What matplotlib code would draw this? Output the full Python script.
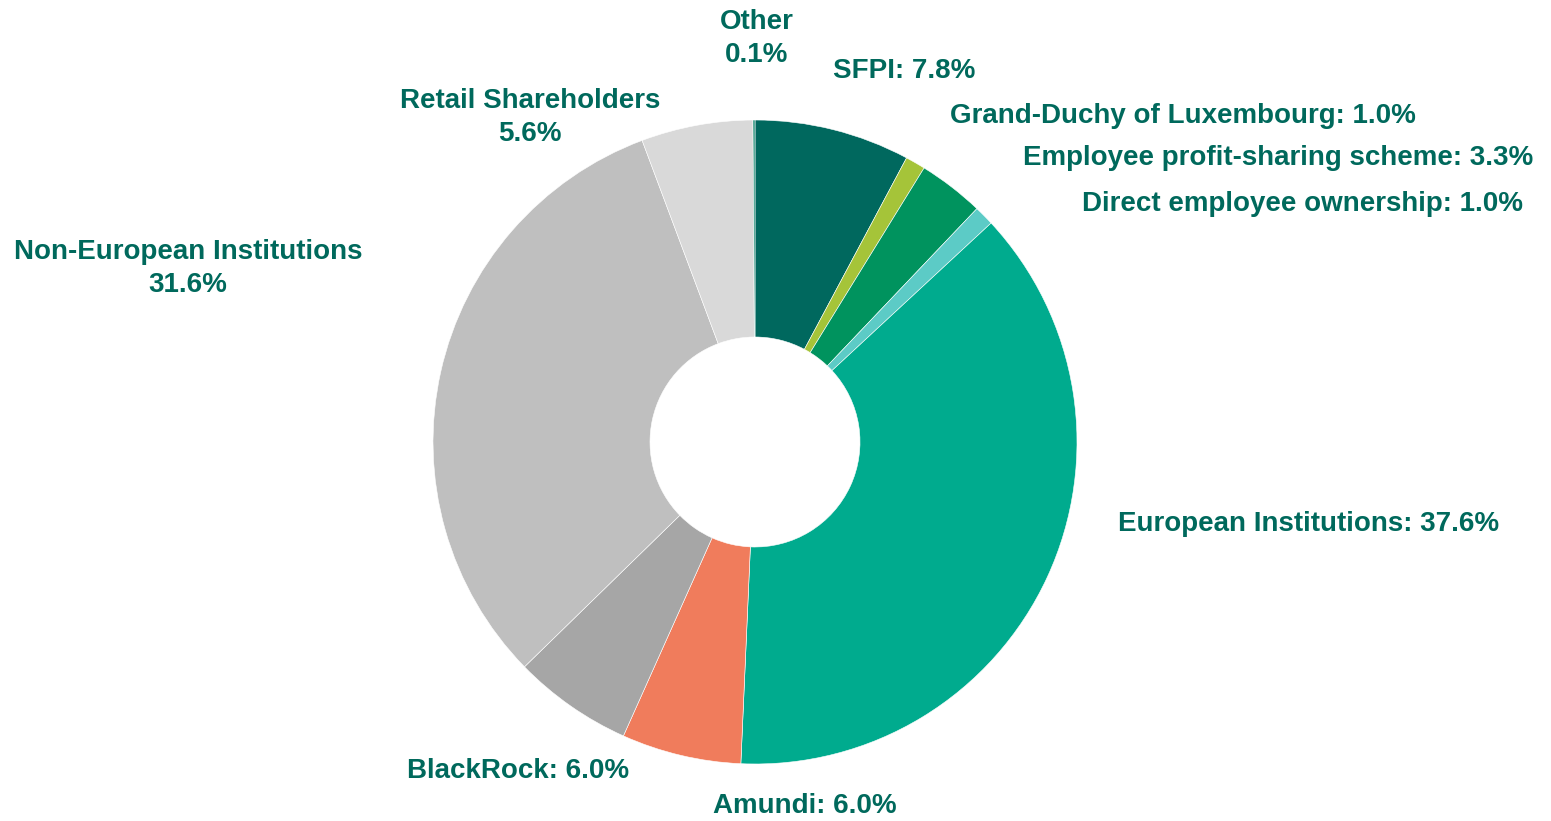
import matplotlib
matplotlib.use('Agg')
import matplotlib.pyplot as plt

# shareholders, clockwise from 12 o'clock
names = ['SFPI', 'Grand-Duchy of Luxembourg', 'Employee profit-sharing scheme',
         'Direct employee ownership', 'European Institutions', 'Amundi',
         'BlackRock', 'Non-European Institutions', 'Retail Shareholders', 'Other']
shares = [7.8, 1.0, 3.3, 1.0, 37.6, 6.0, 6.0, 31.6, 5.6, 0.1]
colors = ['#00685E', '#A5C439', '#00935E', '#5CCBC6', '#00AB8E', '#F07C5C',
          '#A6A6A6', '#BFBFBF', '#D9D9D9', '#1A8C74']

txt_color = '#00695C'
W, H = 1551, 821
cx, cy, R = 755, 442, 322   # pie centre / radius in pixels

plt.rcParams['font.family'] = ['Liberation Sans', 'DejaVu Sans']

fig = plt.figure(figsize=(W / 100, H / 100), dpi=100)
ax = fig.add_axes([0, 0, 1, 1])
ax.pie(shares, colors=colors, startangle=90, counterclock=False, radius=1,
       wedgeprops=dict(width=1 - 105 / R, edgecolor='white', linewidth=0.4))
ax.set_xlim(-cx / R, (W - cx) / R)
ax.set_ylim(-(H - cy) / R, cy / R)
ax.set_aspect('equal')
ax.axis('off')


def px(x, y):
    return (x - cx) / R, (cy - y) / R


def lab(i, x, y, ha='left', two_lines=False):
    if two_lines:
        s = '%s\n%.1f%%' % (names[i], shares[i])
    else:
        s = '%s: %.1f%%' % (names[i], shares[i])
    ax.text(*px(x, y), s, ha=ha, va='center', color=txt_color, fontsize=20,
            fontweight='bold', linespacing=1.35, multialignment='center')


lab(0, 833, 71)
lab(1, 950, 116)
lab(2, 1023, 158)
lab(3, 1082, 204)
lab(4, 1118, 524)
lab(5, 713, 806)
lab(6, 407, 771)
lab(7, 188, 268, ha='center', two_lines=True)
lab(8, 530, 117, ha='center', two_lines=True)
lab(9, 757, 38, ha='center', two_lines=True)

fig.savefig('out.png', dpi=100)
